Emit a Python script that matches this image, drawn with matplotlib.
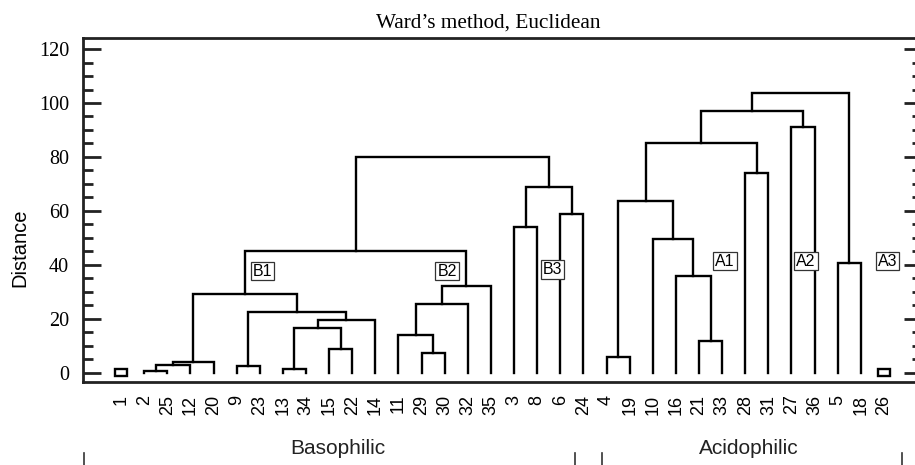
import matplotlib
matplotlib.use("Agg")
import matplotlib.pyplot as plt
from matplotlib.patches import Rectangle
from matplotlib.ticker import MultipleLocator

# leaf order along the x axis
leaves = ['1', '2', '25', '12', '20', '9', '23', '13', '34', '15', '22', '14', '11',
          '29', '30', '32', '35', '3', '8', '6', '24', '4', '19', '10', '16', '21',
          '33', '28', '31', '27', '36', '5', '18', '26']

# merges: (left child, right child, distance); children are leaves or merge names
merge_names = ['m0', 'm1', 'm2', 'm3', 'm4', 'm5', 'm6', 'm7', 'm8', 'm9', 'm10',
               'm11', 'm12', 'm13', 'm14', 'm15', 'm16', 'm17', 'm18', 'm19', 'm20',
               'm21', 'm22', 'm23', 'm24', 'm25', 'm26', 'm27', 'm28', 'm29']
merge_left = ['2', 'm0', 'm1', '9', '13', '15', 'm4', 'm6', 'm3', 'm2', '29',
              '11', 'm11', 'm12', 'm9', '3', '6', 'm15', 'm14', '4', '21',
              '16', '10', 'm19', '28', 'm23', '27', 'm25', '5', 'm27']
merge_right = ['25', '12', '20', '23', '34', '22', 'm5', '14', 'm7', 'm8', '30',
               'm10', '32', '35', 'm13', '8', '24', 'm16', 'm17', '19', '33',
               'm20', 'm21', 'm22', '31', 'm24', '36', 'm26', '18', 'm28']
merge_dist = [0.8, 3.0, 3.8, 2.3, 1.2, 8.8, 16.4, 19.5, 22.4, 29.2, 7.3,
              14.1, 25.5, 32.1, 45.1, 54.0, 58.7, 69.0, 79.8, 5.8, 11.6,
              35.8, 49.4, 63.7, 73.9, 85.1, 91.0, 97.1, 40.5, 103.7]

# unmerged single samples drawn as small squares
singles = ['1', '26']

# cluster labels: (text, x in leaf units, distance)
cluster_text = ['B1', 'B2', 'B3', 'A1', 'A2', 'A3']
cluster_x = [6.12, 14.1, 18.65, 26.12, 29.63, 33.15]
cluster_y = [37.7, 37.7, 38.3, 41.4, 41.4, 41.4]

groups = ['Basophilic', 'Acidophilic']
group_x = [9.39, 27.16]
group_bounds = [-1.6, 19.65, 20.8, 33.8]

fig = plt.figure(figsize=(9.15, 4.65), dpi=100)
ax = fig.add_axes([83 / 915, 1 - 382 / 465, 839 / 915, 344 / 465])

pos = {name: (i, 0.0) for i, name in enumerate(leaves)}
for name, a, b, d in zip(merge_names, merge_left, merge_right, merge_dist):
    xa, ya = pos[a]
    xb, yb = pos[b]
    ax.plot([xa, xa, xb, xb], [ya, d, d, yb], color='black', lw=1.7,
            solid_joinstyle='miter', zorder=2)
    pos[name] = ((xa + xb) / 2, d)

for s in singles:
    x = leaves.index(s)
    ax.add_patch(Rectangle((x - 0.26, -1.4), 0.52, 2.6, fill=False,
                           edgecolor='black', lw=1.7, zorder=2))

for t, x, y in zip(cluster_text, cluster_x, cluster_y):
    ax.text(x, y, t, ha='center', va='center', fontsize=11.5,
            family='Liberation Sans', zorder=3,
            bbox=dict(boxstyle='square,pad=0.12', fc='white', ec='#333333', lw=0.9))

ax.set_xlim(-1.645, len(leaves) - 1 + 1.645)
ax.set_ylim(-3.45, 124.1)
ax.set_xticks(range(len(leaves)))
ax.set_xticklabels(leaves, rotation=90, fontsize=13, family='Liberation Sans')
ax.tick_params(axis='x', length=0, pad=9)

ax.yaxis.set_major_locator(MultipleLocator(20))
ax.yaxis.set_minor_locator(MultipleLocator(5))
ax.tick_params(axis='y', which='both', direction='in', right=True, width=2,
               color='#222222', labelsize=14.5, pad=10)
ax.tick_params(axis='y', which='major', length=13)
ax.tick_params(axis='y', which='minor', length=7)
for lab in ax.get_yticklabels():
    lab.set_family('Liberation Serif')
ax.set_ylabel('Distance', fontsize=14.5, family='Liberation Sans')
ax.yaxis.set_label_coords(-0.064, 0.39)

for side in ['left', 'bottom', 'top', 'right']:
    ax.spines[side].set_linewidth(2)
    ax.spines[side].set_color('#222222')

fig.text(488 / 915, 1 - 23 / 465, 'Ward\u2019s method, Euclidean', ha='center',
         va='center', fontsize=15.3, family='Liberation Serif')

for g, x in zip(groups, group_x):
    ax.text(x, -0.192, g, transform=ax.get_xaxis_transform(), ha='center',
            va='center', fontsize=15, family='Liberation Sans', color='#222222')
for b in group_bounds:
    ax.plot([b, b], [-0.206, -0.245], transform=ax.get_xaxis_transform(),
            color='#333333', lw=1.2, clip_on=False)

fig.savefig('out.png', dpi=100)
